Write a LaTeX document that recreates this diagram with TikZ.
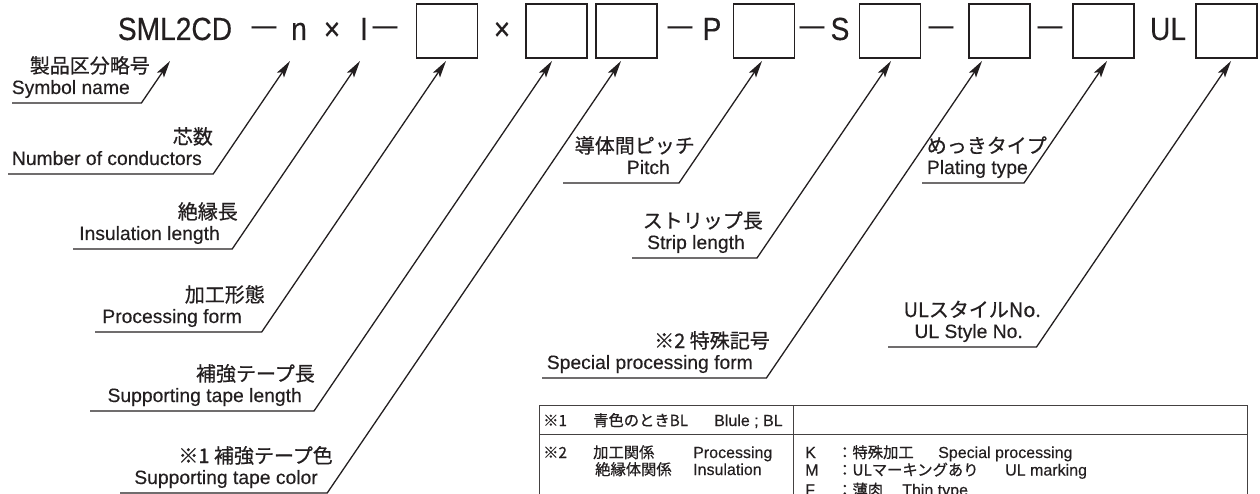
\documentclass[tikz,border=0pt]{standalone}
\usepackage{fontspec}
\setmainfont{Liberation Sans}[FakeBold=0.3]
\newfontfamily\jpf{Noto Sans CJK JP}[FakeBold=0.6]
\newfontfamily\topf{Liberation Sans}[FakeStretch=0.88,FakeBold=0.3]
\usetikzlibrary{arrows.meta}
\definecolor{ink}{HTML}{231F20}
\begin{document}
\begin{tikzpicture}[x=1pt,y=-1pt,
  lead/.style={draw=ink,line width=1.3pt,-{Stealth[length=17pt,width=8.5pt,inset=3.5pt]}},
  ja/.style={anchor=base east,inner sep=0pt,text=ink,font=\jpf\fontsize{20pt}{24pt}\selectfont},
  en/.style={anchor=base east,inner sep=0pt,text=ink,font=\fontsize{19.3pt}{23pt}\selectfont},
  toptext/.style={anchor=base,inner sep=0pt,text=ink,font=\topf\fontsize{32pt}{36pt}\selectfont},
  dashtext/.style={anchor=base,inner sep=0pt,text=ink,font=\topf\fontsize{28pt}{32pt}\selectfont},
  codebox/.style={draw=ink,line width=1.2pt,minimum width=61pt,minimum height=54pt,inner sep=0pt},
  tab/.style={draw=ink!85,line width=1pt},
  tl/.style={anchor=base west,inner sep=0pt,text=ink,font=\fontsize{16pt}{18pt}\selectfont},
  tj/.style={anchor=base west,inner sep=0pt,text=ink,font=\jpf\fontsize{15.3pt}{17pt}\selectfont},
]
\useasboundingbox (0,0) rectangle (1260,494);
\clip (0,0) rectangle (1260,494);

% ---- top code row ----
\node[toptext] (sml) at (175,40) {SML2CD};
\node[dashtext] (d1) at (264,34.5) {—};
\node[toptext] (n) at (299,40) {n};
\node[toptext] (x1) at (332,40) {×};
\node[toptext] (l) at (364,40) {I};
\node[dashtext] (d2) at (385,34.5) {—};
\node[codebox] (b1) at (447,31) {};
\node[toptext] (x2) at (502,40) {×};
\node[codebox] (b2) at (556.5,31) {};
\node[codebox] (b3) at (626.5,31) {};
\node[dashtext] (d3) at (680,34.5) {—};
\node[toptext] (p) at (712,40) {P};
\node[codebox] (b4) at (764,31) {};
\node[dashtext] (d4) at (812,34.5) {—};
\node[toptext] (s) at (840,40) {S};
\node[codebox] (b5) at (890,31) {};
\node[dashtext] (d5) at (941,34.5) {—};
\node[codebox] (b6) at (999.5,31) {};
\node[dashtext] (d6) at (1050,34.5) {—};
\node[codebox] (b7) at (1103.5,31) {};
\node[toptext] (ul) at (1168,40) {UL};
\node[codebox] (b8) at (1226.5,31) {};

% ---- leader coordinates ----
\coordinate (t1) at (170,61);   \coordinate (c1) at (141.4,103); \coordinate (s1) at (12,103);
\coordinate (t2) at (290,61);   \coordinate (c2) at (213.2,174); \coordinate (s2) at (8,174);
\coordinate (t3) at (360,61);   \coordinate (c3) at (232.2,249); \coordinate (s3) at (73,249);
\coordinate (t4) at (446,61);   \coordinate (c4) at (261.7,332); \coordinate (s4) at (95,332);
\coordinate (t5) at (552,61);   \coordinate (c5) at (314,411);   \coordinate (s5) at (90,411);
\coordinate (t6) at (621,61);   \coordinate (c6) at (327.2,493); \coordinate (s6) at (120,493);
\coordinate (t7) at (762,61);   \coordinate (c7) at (679,183);   \coordinate (s7) at (563,183);
\coordinate (t8) at (891,61);   \coordinate (c8) at (757,258);   \coordinate (s8) at (632,258);
\coordinate (t9) at (982,61);   \coordinate (c9) at (766.4,378); \coordinate (s9) at (542,378);
\coordinate (t10) at (1107,61); \coordinate (c10) at (1024,183); \coordinate (s10) at (922,183);
\coordinate (t11) at (1231,61); \coordinate (c11) at (1036.5,347); \coordinate (s11) at (888,347);

\foreach \i in {1,...,11} { \draw[lead] (s\i) -- (c\i) -- (t\i); }

% ---- labels ----
\node[ja] (j1) at (150,73) {製品区分略号};
\node[en] (e1) at (130,94) {Symbol name};
\node[ja] (j2) at (213,144) {芯数};
\node[en] (e2) at (202,165) {Number of conductors};
\node[ja] (j3) at (238,219) {絶縁長};
\node[en] (e3) at (220,240) {Insulation length};
\node[ja] (j4) at (265,302) {加工形態};
\node[en] (e4) at (242,323) {Processing form};
\node[ja] (j5) at (315,381) {補強テープ長};
\node[en] (e5) at (302,402) {Supporting tape length};
\node[ja] (j6) at (333,463) {※1 補強テープ色};
\node[en] (e6) at (318,484) {Supporting tape color};
\node[ja] (j7) at (695,153) {導体間ピッチ};
\node[en] (e7) at (670,174) {Pitch};
\node[ja] (j8) at (763,228) {ストリップ長};
\node[en] (e8) at (745,249) {Strip length};
\node[ja] (j9) at (770,348) {※2 特殊記号};
\node[en] (e9) at (753,369) {Special processing form};
\node[ja] (j10) at (1047,153) {めっきタイプ};
\node[en] (e10) at (1028,174) {Plating type};
\node[ja] (j11) at (1041,317) {ULスタイルNo.};
\node[en] (e11) at (1023,338) {UL Style No.};

% ---- table ----
\draw[tab] (539,405) rectangle (1247,530);
\draw[tab] (539,434) -- (1247,434);
\draw[tab] (793,405) -- (793,530);

\node[tj] (r1a) at (543,426) {※1};
\node[tj] (r1b) at (593,426) {青色のときBL};
\node[tl] (r1c) at (714,426) {Blule ; BL};
\node[tj] (r2a) at (543,458) {※2};
\node[tj] (r2b) at (593,458) {加工関係};
\node[tl] (r2c) at (693,458) {Processing};
\node[tj] (r3b) at (595,475) {絶縁体関係};
\node[tl] (r3c) at (693,475) {Insulation};
\node[tl] (k) at (805,458) {K};
\node[tj] (kj) at (837,458) {：特殊加工};
\node[tl] (ke) at (938,458) {Special processing};
\node[tl] (m) at (805,475.5) {M};
\node[tj] (mj) at (837,475.5) {：ULマーキングあり};
\node[tl] (me) at (1005,475.5) {UL marking};
\node[tl] (f) at (805,495.5) {F};
\node[tj] (fj) at (837,495.5) {：薄肉};
\node[tl] (fe) at (902,495.5) {Thin type};
\end{tikzpicture}
\end{document}
